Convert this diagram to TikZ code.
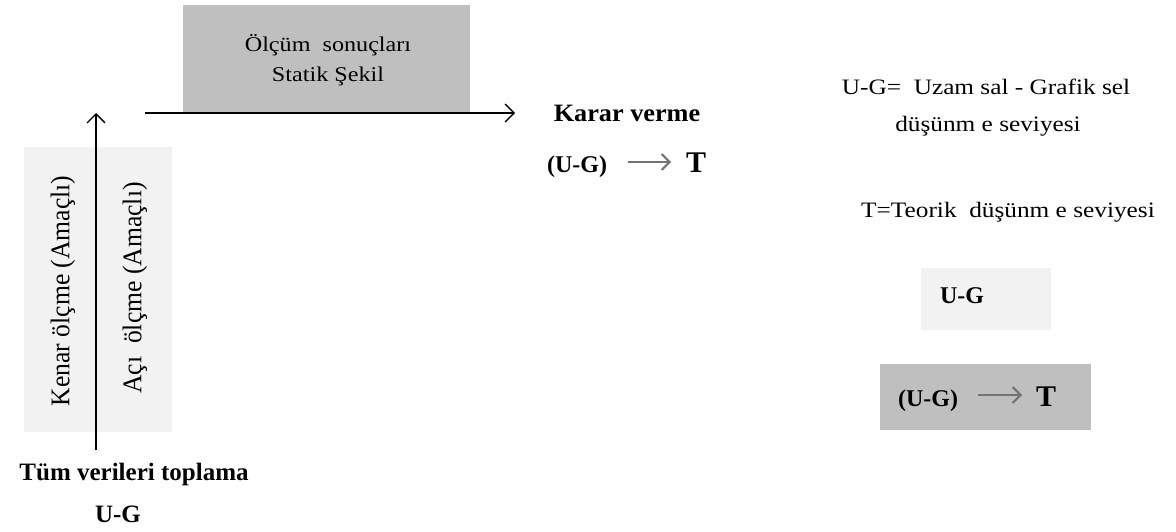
\documentclass[tikz,border=0pt]{standalone}
\usepackage{fontspec}
\setmainfont{Liberation Serif}
\newfontfamily\rs[FakeStretch=1.15]{Liberation Serif}
\newfontfamily\rot[FakeStretch=0.95]{Liberation Serif}
\newfontfamily\bs[FakeStretch=1.05]{Liberation Serif}
\usetikzlibrary{arrows.meta}
\definecolor{lightbox}{HTML}{F2F2F2}
\definecolor{darkbox}{HTML}{BFBFBF}
\begin{document}
\begin{tikzpicture}[x=1pt,y=-1pt,
  txt/.style={inner sep=0pt,anchor=base,font=\rs\fontsize{22}{26}\selectfont},
  boxtxt/.style={inner sep=0pt,anchor=base,font=\rs\fontsize{21}{25}\selectfont},
  rtxt/.style={inner sep=0pt,anchor=center,rotate=90,font=\rot\fontsize{27}{30}\selectfont},
  btxt/.style={inner sep=0pt,anchor=base,font=\bfseries\fontsize{24}{28}\selectfont},
  bigT/.style={inner sep=0pt,anchor=base,font=\bfseries\fontsize{30}{32}\selectfont},
  conn/.style={line width=1.4pt,-{Straight Barb[length=9pt,width=18pt,line width=1.4pt]}},
  tarr/.style={line width=2pt,black!55,-{Straight Barb[length=8pt,width=16pt,line width=2pt]}}]
\useasboundingbox (0,0) rectangle (1176,532);
% boxes
\fill[darkbox] (183,5) rectangle (470,112);
\fill[lightbox] (24,147) rectangle (172,432);
\fill[lightbox] (921,268) rectangle (1051,330);
\fill[darkbox] (880,364) rectangle (1091,430);
% top box text
\node[boxtxt] (olc) at (328,52) {Ölçüm\ \ sonuçları};
\node[boxtxt] (sta) at (328,82) {Statik Şekil};
% side labels
\node[rtxt] (ken) at (63,291) {Kenar ölçme (Amaçlı)};
\node[rtxt] (aci) at (135,288) {Açı\ \ ölçme (Amaçlı)};
% bottom
\node[btxt,font=\bfseries\fontsize{25}{28}\selectfont] (tum) at (134,480) {Tüm verileri toplama};
\node[btxt,font=\bfseries\fontsize{25}{28}\selectfont] (ug) at (118,522) {U-G};
% decision
\node[btxt,font=\bs\bfseries\fontsize{25}{28}\selectfont] (kar) at (627,122) {Karar verme};
\node[btxt] (kug) at (577,173) {(U-G)};
\node[bigT] (kt) at (696,173) {T};
\coordinate (kas) at (628,162);
\coordinate (kae) at (671,162);
\draw[tarr] (kas) -- (kae);
% connectors
\coordinate (vs) at (96,450);
\coordinate (ve) at (96,113);
\coordinate (hs) at (145,113);
\coordinate (he) at (515,113);
\draw[conn] (vs) -- (ve);
\draw[conn] (hs) -- (he);
% legend
\node[txt] (l1) at (986,95) {U-G=\ \ Uzam sal - Grafik sel};
\node[txt] (l2) at (988,132) {düşünm e seviyesi};
\node[txt] (l3) at (1008,217) {T=Teorik\ \ düşünm e seviyesi};
\node[btxt] (l4) at (962,303) {U-G};
\node[btxt] (l5) at (928,406) {(U-G)};
\node[bigT] (l5t) at (1046,406) {T};
\coordinate (las) at (978,395);
\coordinate (lae) at (1022,395);
\draw[tarr] (las) -- (lae);
\end{tikzpicture}
\end{document}
